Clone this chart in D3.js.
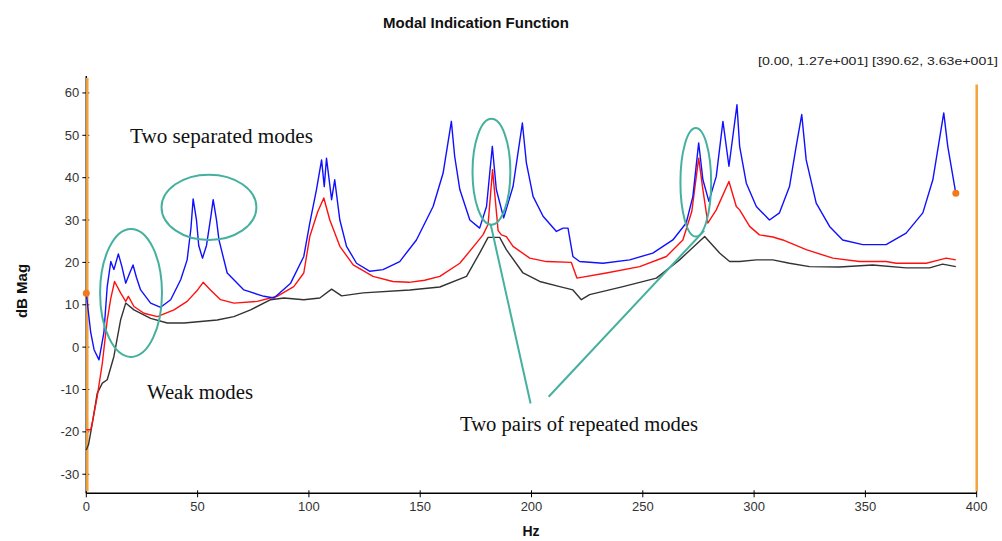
<!DOCTYPE html>
<html>
<head>
<meta charset="utf-8">
<script src="https://cdn.jsdelivr.net/npm/d3@7"></script>
<style>
  html, body { margin: 0; padding: 0; background: #fff; }
  svg { display: block; }
</style>
</head>
<body>
<svg id="chart" width="1002" height="541"></svg>
<script>
// ---------- DATA (Hz, dB) ----------
const blueSeries = [[0,12.7],[1,8],[2,3.4],[3.5,-0.6],[5.7,-3],[7.9,3.4],[9.4,14.3],[11,20.2],[12.4,18.3],[14.4,22],[16,19],[17.7,15.1],[19.5,17.5],[21,19.4],[22.5,16.5],[24.4,13.5],[28.9,10.4],[33.4,9.4],[37.9,11.2],[42.4,15.9],[45.3,20.6],[47,28],[48,35],[49.5,30],[50.5,24],[52.2,21],[54,24],[56,31],[57,34.8],[58.5,30],[59.6,25.3],[63.3,17.5],[70.8,13.5],[79.8,12],[84.3,11.6],[91.8,15.1],[97.7,21.4],[100.4,29.3],[103.4,37.2],[105.7,44.2],[106.9,37.9],[107.9,44.6],[110.2,34.8],[111.6,39.5],[113.9,30],[116.9,23.8],[121.4,19.8],[127.4,17.9],[133.3,18.3],[140.8,20.2],[148.3,25.3],[155.8,33.2],[160.3,41.1],[164,53.3],[165.5,45],[167.8,37.2],[172.3,30],[176.7,28.1],[179.8,33.2],[182.4,47.4],[184.2,37.2],[187.5,30.5],[191.7,37.9],[195.9,52.9],[197.7,43.5],[200.7,35.6],[205.2,30.9],[211.2,27.3],[214.2,28.1],[216.4,28.1],[218.6,21.4],[221.6,20.2],[232.1,19.8],[244.1,20.6],[254.5,22.2],[263.5,25.3],[269.5,29.3],[272.5,35.6],[275.1,48.2],[277,39.5],[279.7,34.4],[283,40.3],[286,53.3],[288.7,42.7],[292.3,57.2],[293.5,47.4],[296.5,38.7],[301,33.2],[306.9,30],[311.4,31.7],[315.9,37.9],[318.9,47.4],[321.4,54.9],[323.4,44.2],[327.9,34],[333.9,28.5],[339.8,25.3],[348.8,24.2],[359.3,24.2],[368.3,26.9],[375.8,31.7],[380.3,39.5],[385.2,55.3],[387,47.4],[390.62,36.3]];

const redSeries = [[0,-19.5],[2,-19.5],[3,-17],[4.9,-11.7],[7.2,-3.8],[9.4,6.4],[11,11.5],[12.7,15.5],[15.4,12.8],[17.7,10.8],[18.9,12],[21.4,9.6],[25.9,8],[31.9,7.2],[39.4,8.8],[45.3,10.8],[50,13.5],[52.5,15.3],[55.8,13.5],[60.3,11.2],[66.3,10.4],[76.8,10.8],[85.7,12],[93.2,14.3],[97.7,17.5],[100.4,26.1],[104,32],[106.7,35.2],[109.4,30],[113.9,23.8],[119.9,19.4],[128.8,16.7],[137.7,15.5],[145,15.3],[152,15.8],[158.8,16.7],[167.8,19.8],[175.3,24.6],[178.2,26.5],[180.5,29],[182.5,41.9],[185,27.5],[186.5,26.5],[188.7,26.1],[191.7,23.8],[199.2,21],[206.7,20.2],[217.9,20],[220.4,16.3],[233.6,17.5],[248.6,19],[260.6,21.4],[268,25.3],[272,32],[275.1,44.6],[277,37.2],[279.2,29.3],[283,32.4],[288.7,39.1],[292,33.2],[293.5,32.4],[298,28.5],[302.4,26.5],[308.4,26],[312.9,25.3],[323.4,23],[335.4,21],[347.3,20.2],[359.3,20.2],[363.8,19.8],[377.3,19.8],[383.3,20.6],[386.3,21],[390.62,20.6]];

const blackSeries = [[0,-24.3],[1,-23],[2.7,-18],[4.9,-10.9],[7.2,-8.5],[9.4,-7.7],[12.4,-2.2],[15.4,6.4],[17.7,10.4],[21.4,8.8],[28.9,6.8],[36.4,5.7],[43.9,5.7],[58.8,6.4],[66.3,7.2],[73.8,8.8],[82.8,11.2],[88.8,11.6],[97.7,11.2],[104.9,11.6],[110.2,13.7],[114.7,12.1],[124.4,12.8],[145.3,13.5],[158.8,14.2],[170.8,16.7],[176.7,22.2],[180.5,25.9],[185.7,25.9],[188.7,23],[196.2,17.5],[203.7,15.5],[212.7,14.3],[218.6,13.5],[222.4,11.2],[226.1,12.4],[241.1,14.3],[256.1,16.3],[266.5,20.6],[277.8,26.1],[284.5,22.2],[289,20.2],[293.5,20.2],[301,20.6],[308.4,20.6],[315.9,19.8],[324.9,19],[338.4,18.9],[353.3,19.4],[368.3,18.7],[378.8,18.7],[384.7,19.6],[390.62,19]];

const xTicks = [0, 50, 100, 150, 200, 250, 300, 350, 400];
const yTicks = [-30, -20, -10, 0, 10, 20, 30, 40, 50, 60];
const cursorMarks = [[0, 12.7], [390.62, 36.3]];
const cursorLines = [0, 400];
const titleText = "Modal Indication Function";
const cursorText = "[0.00, 1.27e+001] [390.62, 3.63e+001]";
const xLabel = "Hz";
const yLabel = "dB Mag";
const notes = ["Two separated modes", "Weak modes", "Two pairs of repeated modes"];

// ---------- DRAW ----------
const svg = d3.select("#chart");
const x = d3.scaleLinear().domain([0, 400]).range([86.3, 976.7]);
const y = d3.scaleLinear().domain([-34.5, 64]).range([493.3, 76]);
const teal = "#45b09f";
const orange = "#f4a23a";
const sans = "Liberation Sans, Arial, sans-serif";

// title
svg.append("text").attr("x", 476).attr("y", 28).attr("text-anchor", "middle")
  .attr("font-family", sans).attr("font-weight", "bold")
  .attr("font-size", 15).attr("fill", "#111").text(titleText);

svg.append("text").attr("x", 998).attr("y", 65).attr("text-anchor", "end")
  .attr("font-family", sans)
  .attr("font-size", 11).attr("fill", "#222")
  .attr("textLength", 240).attr("lengthAdjust", "spacingAndGlyphs").text(cursorText);

// axes
const xAxis = svg.append("g").attr("transform", `translate(0,${y(-34.5)})`);
xAxis.append("line").attr("x1", x(0)).attr("x2", x(400)).attr("stroke", "#000").attr("stroke-width", 1.5);
xAxis.selectAll(".t").data(xTicks).join("line").attr("x1", d => x(d)).attr("x2", d => x(d))
  .attr("y1", -3).attr("y2", 4).attr("stroke", "#000");
xAxis.selectAll(".l").data(xTicks).join("text").attr("x", d => x(d)).attr("y", 18)
  .attr("text-anchor", "middle").attr("font-family", sans)
  .attr("font-size", 13).attr("fill", "#333").text(d => d);

const yAxis = svg.append("g").attr("transform", `translate(${x(0)},0)`);
yAxis.append("line").attr("y1", y(64)).attr("y2", y(-34.5)).attr("stroke", "#000").attr("stroke-width", 1.5);
yAxis.selectAll(".t").data(yTicks).join("line").attr("y1", d => y(d)).attr("y2", d => y(d))
  .attr("x1", -4).attr("x2", 3).attr("stroke", "#000");
yAxis.selectAll(".l").data(yTicks).join("text").attr("x", -7).attr("y", d => y(d) + 4.5)
  .attr("text-anchor", "end").attr("font-family", sans)
  .attr("font-size", 13).attr("fill", "#333").text(d => d);

svg.append("text").attr("transform", "translate(27,291) rotate(-90)").attr("text-anchor", "middle")
  .attr("font-family", sans).attr("font-weight", "bold")
  .attr("font-size", 15).attr("fill", "#111").text(yLabel);
svg.append("text").attr("x", 531).attr("y", 536).attr("text-anchor", "middle")
  .attr("font-family", sans).attr("font-weight", "bold")
  .attr("font-size", 14).attr("fill", "#111").text(xLabel);

// cursor lines
svg.selectAll(".cur").data(cursorLines).join("line")
  .attr("x1", d => x(d) + (d === 0 ? 1 : 0)).attr("x2", d => x(d) + (d === 0 ? 1 : 0))
  .attr("y1", (d, i) => i === 0 ? y(63.5) : y(62)).attr("y2", y(-34))
  .attr("stroke", orange).attr("stroke-width", 2.5);

// curves
const line = d3.line().x(d => x(d[0])).y(d => y(d[1]));
[[blackSeries, "#333"], [redSeries, "#ff1010"], [blueSeries, "#1010ff"]].forEach(([s, c]) => {
  svg.append("path").datum(s).attr("d", line).attr("fill", "none")
    .attr("stroke", c).attr("stroke-width", 1.4).attr("stroke-linejoin", "round");
});

// cursor markers
svg.selectAll(".mk").data(cursorMarks).join("circle")
  .attr("cx", d => x(d[0])).attr("cy", d => y(d[1])).attr("r", 3.5).attr("fill", "#f27a1a");

// annotations (ellipses in Hz/dB units)
const ellipses = [
  {cx: 20.1, cy: 12.8, rx: 13.9, ry: 15.1},
  {cx: 55.1, cy: 33.0, rx: 21.3, ry: 7.7},
  {cx: 182.0, cy: 41.4, rx: 8.5, ry: 12.5},
  {cx: 273.8, cy: 38.9, rx: 6.9, ry: 12.8}
];
const kx = x(1) - x(0), ky = y(0) - y(1);
svg.selectAll(".el").data(ellipses).join("ellipse")
  .attr("cx", d => x(d.cx)).attr("cy", d => y(d.cy))
  .attr("rx", d => d.rx * kx).attr("ry", d => d.ry * ky)
  .attr("fill", "none").attr("stroke", teal).attr("stroke-width", 2);

const pointers = [
  [[181.7, 28.9], [199.6, -13.3]],
  [[207.7, -11.7], [277.6, 27.5]]
];
svg.selectAll(".pt").data(pointers).join("line")
  .attr("x1", d => x(d[0][0])).attr("y1", d => y(d[0][1]))
  .attr("x2", d => x(d[1][0])).attr("y2", d => y(d[1][1]))
  .attr("stroke", teal).attr("stroke-width", 2);

const noteSpecs = [
  {t: notes[0], x: 130, y: 143, w: 183},
  {t: notes[1], x: 147, y: 399, w: 106},
  {t: notes[2], x: 460, y: 431, w: 238}
];
svg.selectAll(".nt").data(noteSpecs).join("text")
  .attr("x", d => d.x).attr("y", d => d.y)
  .attr("font-family", "Liberation Serif, Times New Roman, serif")
  .attr("font-size", 20).attr("fill", "#111")
  .attr("textLength", d => d.w).attr("lengthAdjust", "spacingAndGlyphs")
  .text(d => d.t);
</script>
</body>
</html>
